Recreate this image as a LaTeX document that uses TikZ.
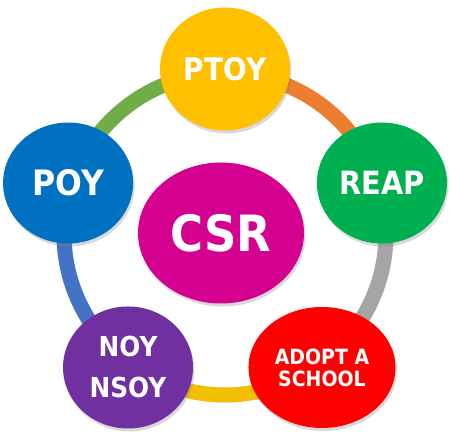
\documentclass[tikz,border=0pt]{standalone}
\usepackage{fontspec}
\newfontfamily\blobfont{DejaVu Sans}[FakeStretch=0.9]
\usetikzlibrary{shapes.geometric,shadows,calc}

\definecolor{ptoycol}{HTML}{FFC000}
\definecolor{reapcol}{HTML}{00B050}
\definecolor{adoptcol}{HTML}{FF0000}
\definecolor{noycol}{HTML}{7030A0}
\definecolor{poycol}{HTML}{0070C0}
\definecolor{csrcol}{HTML}{D4008F}
\definecolor{ringorange}{HTML}{ED7D31}
\definecolor{ringgray}{HTML}{A5A5A5}
\definecolor{ringyellow}{HTML}{F2BF00}
\definecolor{ringblue}{HTML}{4472C4}
\definecolor{ringgreen}{HTML}{70AD47}

\tikzset{
	blob/.style={ellipse, draw=none, inner sep=0pt, text=white, align=center,
		font=\blobfont\bfseries,
		drop shadow={opacity=0.3, shadow xshift=1.5pt, shadow yshift=-3pt}},
	ring/.style={line width=15pt},
	ringshadow/.style={line width=15pt, black, opacity=0.12, yshift=-2pt, xshift=1pt}
}

\begin{document}
\begin{tikzpicture}[x=1pt, y=1pt]
		\useasboundingbox (0,0) rectangle (450,441);
		\coordinate (hub) at (225,207);

		\foreach \n/\a in {ptoy/90, reap/18, adopt/-54, noy/-126, poy/162} {
			\coordinate (\n pos) at ($(hub)+(\a:165)$);
			\coordinate (\n ring) at ($(hub)+(\a:161)$);
		}

		\draw[ringshadow] (ptoyring) arc[start angle=90, end angle=-270, radius=161];
		\draw[ring, ringorange] (ptoyring) arc[start angle=90, end angle=18, radius=161];
		\draw[ring, ringgray] (reapring) arc[start angle=18, end angle=-54, radius=161];
		\draw[ring, ringyellow] (adoptring) arc[start angle=-54, end angle=-126, radius=161];
		\draw[ring, ringblue] (noyring) arc[start angle=-126, end angle=-198, radius=161];
		\draw[ring, ringgreen] (poyring) arc[start angle=162, end angle=90, radius=161];

		\node[blob, fill=ptoycol, minimum width=130, minimum height=123,
			font=\blobfont\bfseries\fontsize{31}{36}\selectfont] (ptoy) at (ptoypos) {PTOY};
		\node[blob, fill=reapcol, minimum width=130, minimum height=121,
			font=\blobfont\bfseries\fontsize{32}{37}\selectfont] (reap) at (reappos) {REAP};
		\node[blob, fill=adoptcol, minimum width=147, minimum height=121,
			font=\blobfont\bfseries\fontsize{21}{22}\selectfont] (adopt) at (adoptpos) {ADOPT A\\SCHOOL};
		\node[blob, fill=noycol, minimum width=130, minimum height=122,
			font=\blobfont\bfseries\fontsize{27.5}{41}\selectfont] (noy) at (noypos) {NOY\\NSOY};
		\node[blob, fill=poycol, minimum width=130, minimum height=121,
			font=\blobfont\bfseries\fontsize{35}{40}\selectfont] (poy) at (poypos) {POY};

		\node[blob, fill=csrcol, minimum width=166, minimum height=141,
			font=\blobfont\bfseries\fontsize{50}{56}\selectfont] (csr) at (221,208) {CSR};
	\end{tikzpicture}
\end{document}
